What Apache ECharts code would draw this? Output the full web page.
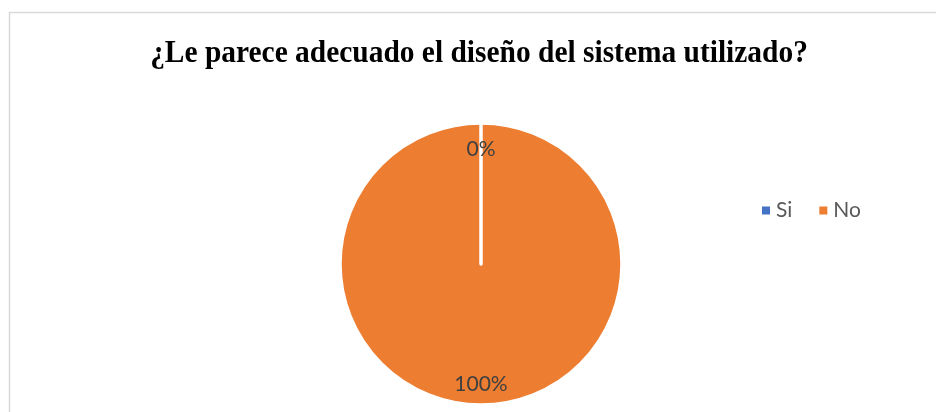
<!DOCTYPE html>
<html>
<head>
<meta charset="utf-8">
<script src="https://cdn.jsdelivr.net/npm/echarts@6/dist/echarts.min.js"></script>
<style>
  html, body { margin: 0; padding: 0; background: #ffffff; }
  #chart { width: 936px; height: 412px; }
</style>
</head>
<body>
<div id="chart"></div>
<script>
// Survey answers for the system design question
const categories = ['Si', 'No'];
const counts = [0, 100];
const colors = ['#4472C4', '#ED7D31'];
const titleText = '¿Le parece adecuado el diseño del sistema utilizado?';

const pieData = categories.map((name, i) => ({
  name: name,
  value: counts[i],
  itemStyle: { color: colors[i] }
}));

const center = [481, 264];

const chart = echarts.init(document.getElementById('chart'), null, { renderer: 'canvas' });

chart.setOption({
  animation: false,
  backgroundColor: '#ffffff',
  graphic: [
    {
      // outer frame of the chart area
      type: 'rect',
      silent: true,
      shape: { x: 9.5, y: 12.5, width: 940, height: 420 },
      style: { fill: 'none', stroke: '#D9D9D9', lineWidth: 1.5 }
    },
    {
      // heading, set slightly narrow
      type: 'text',
      silent: true,
      x: 479,
      y: 54,
      scaleX: 0.92,
      style: {
        text: titleText,
        align: 'center',
        verticalAlign: 'middle',
        font: 'bold 32px "Liberation Serif", "Times New Roman", serif',
        fill: '#000000'
      }
    }
  ],
  legend: {
    orient: 'horizontal',
    left: 757,
    top: 195,
    icon: 'rect',
    itemWidth: 8,
    itemHeight: 8,
    itemGap: 27,
    selectedMode: false,
    data: categories.map((name, i) => ({
      name: name,
      itemStyle: { color: colors[i], borderWidth: 0 }
    })),
    textStyle: {
      fontFamily: 'Lato, "Open Sans", sans-serif',
      fontSize: 21,
      color: '#595959',
      padding: [0, 0, 0, 1]
    }
  },
  series: [
    {
      // the pie itself; drawn counter-clockwise in reverse order so the
      // empty "Si" slice is painted last and its white outline stays visible
      type: 'pie',
      center: center,
      radius: [0, 141],
      startAngle: 90,
      clockwise: false,
      silent: true,
      label: { show: false },
      labelLine: { show: false },
      itemStyle: { borderColor: '#ffffff', borderWidth: 3.5 },
      data: pieData.slice().reverse()
    },
    {
      // percentage labels set near the rim
      type: 'pie',
      center: [481, 266.5],
      radius: [89, 139.5],
      startAngle: 90,
      clockwise: true,
      silent: true,
      legendHoverLink: false,
      itemStyle: { color: 'rgba(0,0,0,0)', borderWidth: 0 },
      label: {
        show: true,
        position: 'inside',
        formatter: '{d}%',
        fontFamily: 'Lato, "Open Sans", sans-serif',
        fontSize: 21,
        color: '#404040'
      },
      labelLine: { show: false },
      data: categories.map((name, i) => ({ name: name, value: counts[i] }))
    }
  ]
});
</script>
</body>
</html>
